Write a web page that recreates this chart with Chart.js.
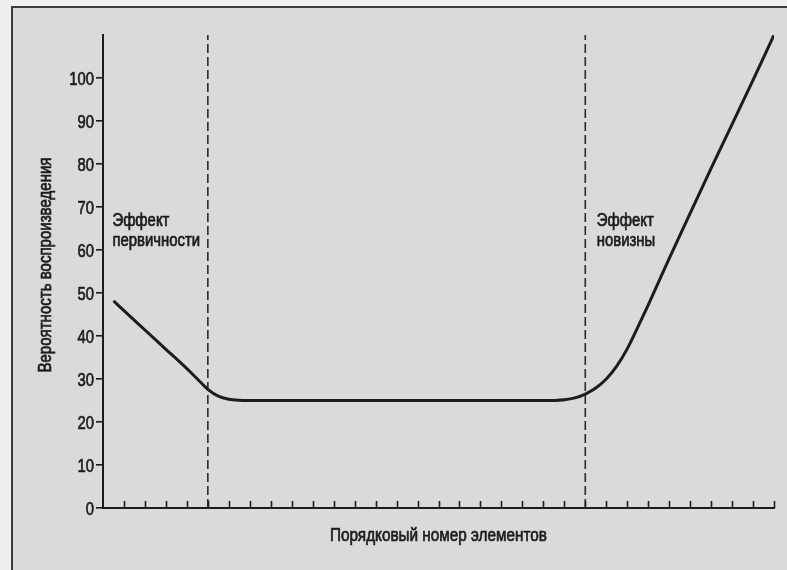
<!DOCTYPE html>
<html>
<head>
<meta charset="utf-8">
<script src="https://cdn.jsdelivr.net/npm/chart.js@4/dist/chart.umd.min.js"></script>
<style>
  html, body { margin: 0; padding: 0; background: #efefef; }
  #wrap { position: relative; width: 787px; height: 570px; overflow: hidden; }
  #frame {
    position: absolute; left: 11px; top: 6px; right: -4px; bottom: -4px;
    border-left: 2px solid #3c3c3c; border-top: 2px solid #3c3c3c;
    background: #dadada;
  }
  canvas { position: absolute; left: 0; top: 0; }
</style>
</head>
<body>
<div id="wrap">
  <div id="frame"></div>
  <canvas id="c" width="787" height="570"></canvas>
</div>
<script>
// Serial position curve: recall probability by item position
const positions = [0.5, 1, 2, 3, 4, 4.5, 5, 5.5, 6, 6.5, 7, 9, 11, 13, 15, 17, 19, 21, 22, 22.5, 23, 23.5, 24, 24.5, 25, 25.5, 26, 27, 28, 29, 30, 31, 32];
const recall    = [48.2, 45.9, 41.4, 36.9, 32.4, 30.0, 27.6, 26.0, 25.3, 25.05, 25.0, 25.0, 25.0, 25.0, 25.0, 25.0, 25.0, 25.0, 25.2, 25.6, 26.5, 27.9, 30.0, 33.0, 37.0, 42.0, 47.2, 58.0, 68.5, 79.0, 89.2, 99.5, 110];

// Boundaries of the primacy and recency regions
const boundaries = [5, 23];
const yTickValues = [0, 10, 20, 30, 40, 50, 60, 70, 80, 90, 100];
const xTickPositions = [1,2,3,4,5,6,7,8,9,10,11,12,13,14,15,16,17,18,19,20,21,22,23,24,25,26,27,28,29,30,31,32];

const effectLabels = [
  { at: 0.45, lines: ['Эффект', 'первичности'] },
  { at: 23.55, lines: ['Эффект', 'новизны'] }
];

const yTitle = 'Вероятность воспроизведения';
const xTitle = 'Порядковый номер элементов';

const FONT = '"Liberation Sans", Arial, sans-serif';
const INK = '#1c1c1c';

const curve = positions.map((p, i) => ({ x: p, y: recall[i] }));
const dashed = boundaries.map(b => ({
  data: [{ x: b, y: 0 }, { x: b, y: 110 }],
  borderColor: '#2a2a2a', borderWidth: 1.6, borderDash: [9, 4],
  pointRadius: 0, tension: 0, order: 2
}));

// Text in a horizontally squeezed face, slightly emboldened
function narrowText(ctx, text, x, y, size, squeeze, align, rotate) {
  ctx.save();
  ctx.translate(x, y);
  if (rotate) ctx.rotate(-Math.PI / 2);
  ctx.scale(squeeze, 1);
  ctx.font = size + 'px ' + FONT;
  ctx.textAlign = align;
  ctx.textBaseline = 'alphabetic';
  ctx.lineWidth = 0.7;
  ctx.lineJoin = 'round';
  ctx.fillText(text, 0, 0);
  ctx.strokeText(text, 0, 0);
  ctx.restore();
}

// Tick marks, tick labels, axis titles and the effect labels
const extras = {
  id: 'extras',
  afterDatasetsDraw(chart) {
    const { ctx, chartArea, scales: { x, y } } = chart;
    const base = y.getPixelForValue(0);
    ctx.save();
    ctx.strokeStyle = INK;
    ctx.fillStyle = INK;
    ctx.lineWidth = 1.6;
    xTickPositions.forEach(v => {
      const px = Math.round(x.getPixelForValue(v)) + 0.5;
      ctx.beginPath();
      ctx.moveTo(px, base);
      ctx.lineTo(px, base - 7);
      ctx.stroke();
    });
    yTickValues.forEach(v => {
      narrowText(ctx, String(v), chartArea.left - 9, y.getPixelForValue(v) + 7, 19, 0.78, 'right', false);
    });
    effectLabels.forEach(l => {
      const px = x.getPixelForValue(l.at);
      l.lines.forEach((t, i) => narrowText(ctx, t, px, y.getPixelForValue(65.5) + i * 20, 17.5, 0.85, 'left', false));
    });
    narrowText(ctx, xTitle, (chartArea.left + chartArea.right) / 2, chartArea.bottom + 33, 18, 0.85, 'center', false);
    narrowText(ctx, yTitle, 51, y.getPixelForValue(56.5), 17.5, 0.86, 'center', true);
    ctx.restore();
  }
};

new Chart(document.getElementById('c'), {
  type: 'line',
  data: {
    datasets: [
      { data: curve, borderColor: INK, borderWidth: 3, pointRadius: 0,
        cubicInterpolationMode: 'monotone', order: 1 },
      ...dashed
    ]
  },
  options: {
    responsive: false,
    animation: false,
    events: [],
    layout: { padding: { left: 0, right: 13, top: 35, bottom: 0 } },
    plugins: { legend: { display: false }, tooltip: { enabled: false } },
    scales: {
      x: {
        type: 'linear', min: 0, max: 32,
        grid: { display: false },
        border: { color: INK, width: 2 },
        ticks: { display: false },
        afterFit(s) { s.height = 62; }
      },
      y: {
        type: 'linear', min: 0, max: 110,
        afterBuildTicks(s) { s.ticks = yTickValues.map(v => ({ value: v })); },
        grid: { drawOnChartArea: false, drawTicks: true, tickLength: 7, color: INK, lineWidth: 1.6 },
        border: { color: INK, width: 2 },
        ticks: { display: false },
        afterFit(s) { s.width = 103; }
      }
    }
  },
  plugins: [extras]
});
</script>
</body>
</html>
